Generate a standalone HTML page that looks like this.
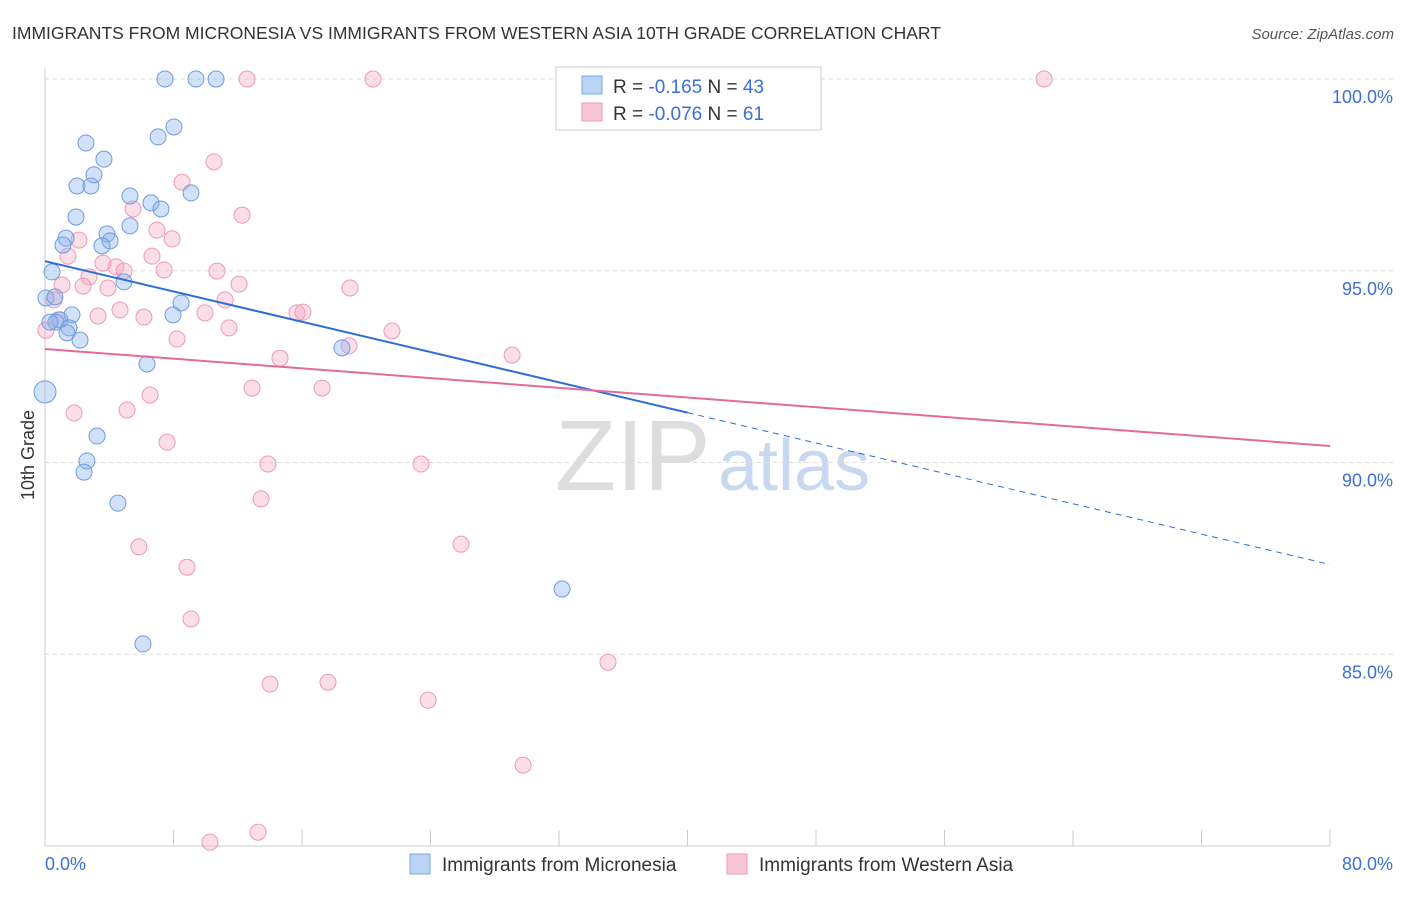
<!DOCTYPE html>
<html><head><meta charset="utf-8"><style>
body{margin:0;background:#fff;font-family:"Liberation Sans",sans-serif}
svg text{font-family:"Liberation Sans",sans-serif}
</style></head><body>
<svg id="chart" width="1406" height="892" xmlns="http://www.w3.org/2000/svg">
<text x="12" y="39" font-size="17.5" fill="#333">IMMIGRANTS FROM MICRONESIA VS IMMIGRANTS FROM WESTERN ASIA 10TH GRADE CORRELATION CHART</text>
<text x="1394" y="39" font-size="15" fill="#555" font-style="italic" text-anchor="end">Source: ZipAtlas.com</text>
<text x="34" y="455" font-size="18" fill="#333" transform="rotate(-90 34 455)" text-anchor="middle">10th Grade</text>
<text x="555" y="490" font-size="100" fill="#ddd" font-family="Liberation Serif">ZIP</text>
<text x="718" y="490" font-size="72" fill="#c8d8f0">atlas</text>
<g id="grid"></g><g id="ticks"></g><g id="pts"></g><g id="trends"></g>
<g>
<rect x="556" y="67" width="265" height="63" fill="#fff" stroke="#ccc"/>
<rect x="582" y="76" width="20" height="18" fill="#b9d3f5" stroke="#7aa6e6"/>
<rect x="582" y="103" width="20" height="18" fill="#f9c6d6" stroke="#ee9ab5"/>
<text x="613" y="93" font-size="19" fill="#333">R = <tspan fill="#3d6fd6">-0.165</tspan>   N = <tspan fill="#3d6fd6">43</tspan></text>
<text x="613" y="120" font-size="19" fill="#333">R = <tspan fill="#3d6fd6">-0.076</tspan>   N = <tspan fill="#3d6fd6"> 61</tspan></text>
</g>
<g>
<rect x="410" y="854" width="20" height="20" fill="#b9d3f5" stroke="#7aa6e6"/>
<text x="442" y="871" font-size="19" fill="#333">Immigrants from Micronesia</text>
<rect x="727" y="854" width="20" height="20" fill="#f9c6d6" stroke="#ee9ab5"/>
<text x="759" y="871" font-size="19" fill="#333">Immigrants from Western Asia</text>
</g>
</svg>
<script>
const yTicks=[100,95,90,85];
const yTickLabels=["100.0%","95.0%","90.0%","85.0%"];
const xTickVals=[0,8,16,24,32,40,48,56,64,72,80];
const xEndLabels=["0.0%","80.0%"];
const blueX=[7.47,9.40,10.65,8.03,7.04,2.55,3.67,3.05,1.99,2.86,9.09,5.29,6.60,7.22,1.93,5.29,3.86,1.31,4.05,1.12,3.55,0.44,4.92,0.06,0.62,8.47,1.68,7.97,0.93,0.68,1.49,1.37,2.18,18.49,6.35,0,3.24,2.61,2.43,4.54,32.19,6.10,0.31];
const blueY=[100,100,100,98.75,98.49,98.33,97.91,97.50,97.21,97.21,97.03,96.95,96.77,96.61,96.40,96.17,95.96,95.85,95.78,95.67,95.65,94.97,94.71,94.29,94.32,94.16,93.85,93.85,93.72,93.66,93.51,93.38,93.19,92.99,92.57,91.84,90.69,90.04,89.75,88.94,86.70,85.27,93.66];
const pinkX=[12.58,20.42,44.02,62.20,10.52,8.53,12.27,5.48,6.97,7.91,2.12,1.43,6.66,4.42,3.61,4.92,7.41,10.71,2.74,1.06,2.37,3.92,12.08,18.99,11.21,4.67,3.30,6.16,9.96,15.69,16.06,0.81,11.46,21.60,8.22,18.93,14.63,29.08,12.89,17.25,6.54,1.81,5.11,7.60,13.88,23.41,13.45,5.85,25.90,8.84,9.09,35.05,14.01,17.62,23.85,29.76,10.27,13.26,0.06,0.56];
const pinkY=[100,100,100,100,97.84,97.31,96.45,96.61,96.06,95.83,95.80,95.38,95.38,95.10,95.20,94.99,95.02,94.99,94.84,94.63,94.60,94.55,94.65,94.55,94.24,93.98,93.82,93.79,93.90,93.90,93.92,93.72,93.51,93.43,93.22,93.04,92.72,92.80,91.94,91.94,91.76,91.29,91.37,90.53,89.96,89.96,89.05,87.80,87.87,87.27,85.92,84.79,84.22,84.27,83.80,82.11,80.10,80.36,93.45,94.24];
const blueTrend=[95.25,91.3,87.34];
const pinkTrend=[92.96,90.43];
const sx=v=>45+v/80*1285;
const sy=v=>79+(100-v)*38.35;
const NS="http://www.w3.org/2000/svg";
function mk(p,t,a){const e=document.createElementNS(NS,t);for(const k in a)e.setAttribute(k,a[k]);p.appendChild(e);return e;}
const g=document.getElementById('grid'),tk=document.getElementById('ticks'),pts=document.getElementById('pts'),tr=document.getElementById('trends');
yTicks.forEach((v,i)=>{
 const l=mk(g,'line',{x1:45,x2:1394,y1:sy(v),y2:sy(v),stroke:'#ddd','stroke-dasharray':'4,4'});
 
 
 const t=mk(tk,'text',{x:1393,y:sy(v)+24,'font-size':18,fill:'#3d6fd6','text-anchor':'end'});
 t.textContent=yTickLabels[i];
 
 
});
const ax=mk(tk,'line',{x1:45,x2:45,y1:68,y2:846,stroke:'#ccc'});


const bx=mk(tk,'line',{x1:45,x2:1330,y1:846,y2:846,stroke:'#ccc'});


xTickVals.forEach(v=>{
 const l=mk(tk,'line',{x1:sx(v),x2:sx(v),y1:830,y2:846,stroke:'#ccc'});
 
 
});
[[0,'start',45],[80,'end',1393]].forEach((a,i)=>{
 const t=mk(tk,'text',{x:a[2],y:870,'font-size':18,fill:'#3d6fd6','text-anchor':a[1]});
 t.textContent=xEndLabels[i];
 
 
});
pinkX.forEach((x,i)=>{
 const c=mk(pts,'circle',{cx:sx(x),cy:sy(pinkY[i]),r:8,fill:'rgba(244,160,190,0.35)',stroke:'#ee9ab5','stroke-width':1});
 
 
});
blueX.forEach((x,i)=>{
 const c=mk(pts,'circle',{cx:sx(x),cy:sy(blueY[i]),r:i==35?11:8,fill:'rgba(140,180,235,0.4)',stroke:'#6f9ce0','stroke-width':1});
 
 
});
const b1=mk(tr,'line',{x1:sx(0),y1:sy(blueTrend[0]),x2:sx(40),y2:sy(blueTrend[1]),stroke:'#2d6fd6','stroke-width':2});


const b2=mk(tr,'line',{x1:sx(40),y1:sy(blueTrend[1]),x2:sx(80),y2:sy(blueTrend[2]),stroke:'#2d6fd6','stroke-width':1,'stroke-dasharray':'6,5'});


const p1=mk(tr,'line',{x1:sx(0),y1:sy(pinkTrend[0]),x2:sx(80),y2:sy(pinkTrend[1]),stroke:'#e46b98','stroke-width':2});


</script>
</body></html>
